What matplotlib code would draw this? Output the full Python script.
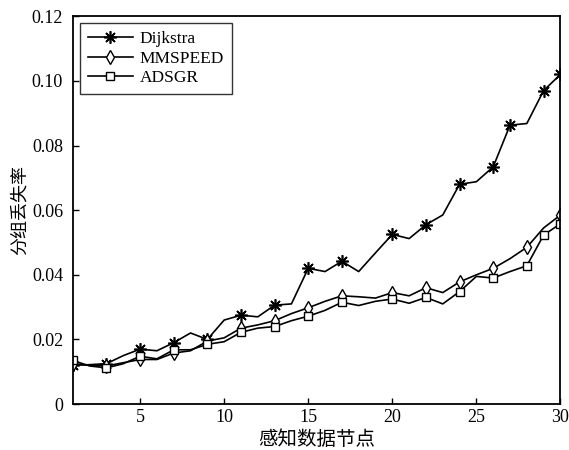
import numpy as np
import matplotlib
matplotlib.use("Agg")
import matplotlib.pyplot as plt
from matplotlib.ticker import FuncFormatter

plt.rcParams['font.family'] = ['Liberation Serif', 'Noto Sans CJK SC', 'DejaVu Sans']
plt.rcParams['mathtext.fontset'] = 'stix'

x = list(range(1, 31))
dijkstra = [0.012, 0.0122, 0.0125, 0.015, 0.017, 0.0165, 0.019, 0.022, 0.020, 0.026,
            0.0275, 0.027, 0.0306, 0.031, 0.042, 0.041, 0.0442, 0.041, 0.0468, 0.0525,
            0.0512, 0.0555, 0.0585, 0.068, 0.0688, 0.0734, 0.0863, 0.0868, 0.097, 0.102]
mmspeed = [0.0125, 0.012, 0.0118, 0.0128, 0.0138, 0.0138, 0.0158, 0.0165, 0.0195, 0.0205,
           0.0235, 0.0245, 0.0258, 0.028, 0.0298, 0.0318, 0.0335, 0.0332, 0.0328, 0.0345,
           0.0335, 0.036, 0.0345, 0.0378, 0.040, 0.042, 0.045, 0.0485, 0.0545, 0.0585]
adsgr = [0.0135, 0.0118, 0.0112, 0.0125, 0.0148, 0.014, 0.0168, 0.0168, 0.0185, 0.0193,
         0.0222, 0.0235, 0.024, 0.0258, 0.0272, 0.029, 0.0315, 0.0305, 0.0318, 0.0325,
         0.0312, 0.033, 0.031, 0.0348, 0.0395, 0.039, 0.041, 0.0428, 0.0523, 0.0558]

mark_dij = [1, 3, 5, 7, 9, 11, 13, 15, 17, 20, 22, 24, 26, 27, 29, 30]
mark_mms = [1, 3, 5, 7, 9, 11, 13, 15, 17, 20, 22, 24, 26, 28, 30]
mark_ads = [1, 3, 5, 7, 9, 11, 13, 15, 17, 20, 22, 24, 26, 28, 29, 30]

labels = ['Dijkstra', 'MMSPEED', 'ADSGR']
xticks = [5, 10, 15, 20, 25, 30]
yticks = [0, 0.02, 0.04, 0.06, 0.08, 0.10, 0.12]
xlabel = '感知数据节点'
ylabel = '分组丢失率'

fig = plt.figure(figsize=(5.69, 4.5), dpi=100)
ax = fig.add_axes([0.128, 0.102, 0.857, 0.862])

ax.plot(x, dijkstra, color='black', lw=1.2, marker=(8, 2, 0), ms=9, mew=1.2,
        markevery=[i - 1 for i in mark_dij], label=labels[0])
ax.plot(x, mmspeed, color='black', lw=1.2, marker='d', ms=7, mfc='white', mew=1.0,
        markevery=[i - 1 for i in mark_mms], label=labels[1])
ax.plot(x, adsgr, color='black', lw=1.2, marker='s', ms=6, mfc='white', mew=1.0,
        markevery=[i - 1 for i in mark_ads], label=labels[2])

ax.set_xlim(1, 30)
ax.set_ylim(0, 0.12)
ax.set_xticks(xticks)
ax.set_yticks(yticks)
ax.yaxis.set_major_formatter(FuncFormatter(lambda v, p: '0' if v == 0 else f'{v:.2f}'))
ax.tick_params(direction='in', length=4, labelsize=13, width=1)
ax.tick_params(axis='y', pad=7)
for s in ax.spines.values():
    s.set_linewidth(1.3)

ax.set_xlabel(xlabel, fontsize=14, family=['Noto Sans CJK SC'], labelpad=2)
ax.set_ylabel(ylabel, fontsize=13, family=['Noto Sans CJK SC'], labelpad=2)

leg = ax.legend(loc='upper left', fontsize=12.5, handlelength=2.6, frameon=True,
                fancybox=False, edgecolor='black', borderpad=0.45, labelspacing=0.2,
                handletextpad=0.4, borderaxespad=0.4)
leg.get_frame().set_linewidth(1.0)

fig.savefig('out.png', dpi=100)
